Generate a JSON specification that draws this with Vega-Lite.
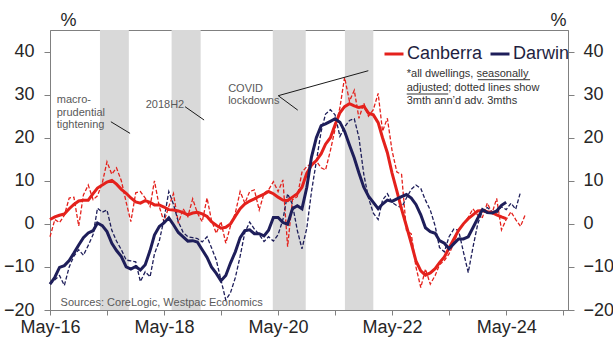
{
  "$schema": "https://vega.github.io/schema/vega-lite/v6.json",
  "width": 518,
  "height": 280,
  "autosize": "none",
  "padding": {"left": 50, "top": 30, "right": 45, "bottom": 34},
  "background": "white",
  "config": {
    "view": {"stroke": "#808080", "strokeWidth": 1},
    "font": "Liberation Sans",
    "axis": {
      "labelFont": "Liberation Sans",
      "labelFontSize": 18,
      "labelColor": "#262626",
      "domainColor": "#808080",
      "tickColor": "#808080",
      "grid": false,
      "titleFont": "Liberation Sans"
    },
    "legend": {
      "orient": "none",
      "legendX": 333,
      "legendY": 13,
      "direction": "horizontal",
      "symbolType": "stroke",
      "symbolSize": 361,
      "symbolStrokeWidth": 3,
      "symbolDash": [],
      "labelFont": "Liberation Sans",
      "labelFontSize": 18,
      "labelColor": "#1f1f3f",
      "labelOffset": 2,
      "columnPadding": 1,
      "padding": 0,
      "title": null
    }
  },
  "datasets": {
    "series": [
      {"d": "2016/05/01", "C": 1.0, "D": -14.0, "Cd": -3.0, "Dd": -14.0},
      {"d": "2016/06/01", "C": 1.6, "D": -12.4, "Cd": 1.0, "Dd": -13.0},
      {"d": "2016/07/01", "C": 2.0, "D": -10.1, "Cd": 0.3, "Dd": -12.0},
      {"d": "2016/08/01", "C": 2.3, "D": -9.7, "Cd": 2.0, "Dd": -14.3},
      {"d": "2016/09/01", "C": 3.5, "D": -8.5, "Cd": 6.0, "Dd": -10.0},
      {"d": "2016/10/01", "C": 4.5, "D": -6.8, "Cd": 6.2, "Dd": -7.5},
      {"d": "2016/11/01", "C": 5.3, "D": -4.9, "Cd": -0.5, "Dd": -6.0},
      {"d": "2016/12/01", "C": 5.5, "D": -3.2, "Cd": 6.7, "Dd": -7.3},
      {"d": "2017/01/01", "C": 5.5, "D": -2.1, "Cd": 9.0, "Dd": -5.0},
      {"d": "2017/02/01", "C": 7.0, "D": -1.6, "Cd": 5.6, "Dd": -2.5},
      {"d": "2017/03/01", "C": 8.3, "D": 0.2, "Cd": 6.5, "Dd": 3.6},
      {"d": "2017/04/01", "C": 9.0, "D": -0.4, "Cd": 9.5, "Dd": 2.7},
      {"d": "2017/05/01", "C": 9.7, "D": -1.8, "Cd": 14.4, "Dd": 3.2},
      {"d": "2017/06/01", "C": 10.1, "D": -4.5, "Cd": 11.5, "Dd": -1.5},
      {"d": "2017/07/01", "C": 9.2, "D": -6.2, "Cd": 13.0, "Dd": -4.0},
      {"d": "2017/08/01", "C": 8.0, "D": -7.6, "Cd": 10.0, "Dd": -6.0},
      {"d": "2017/09/01", "C": 7.1, "D": -10.0, "Cd": 5.0, "Dd": -8.4},
      {"d": "2017/10/01", "C": 6.0, "D": -10.5, "Cd": 0.5, "Dd": -8.6},
      {"d": "2017/11/01", "C": 5.1, "D": -9.9, "Cd": 7.2, "Dd": -8.8},
      {"d": "2017/12/01", "C": 4.8, "D": -10.7, "Cd": 7.5, "Dd": -13.4},
      {"d": "2018/01/01", "C": 5.4, "D": -9.5, "Cd": 6.0, "Dd": -11.1},
      {"d": "2018/02/01", "C": 5.0, "D": -6.2, "Cd": 4.0, "Dd": -12.3},
      {"d": "2018/03/01", "C": 4.4, "D": -2.6, "Cd": 10.0, "Dd": -7.0},
      {"d": "2018/04/01", "C": 4.4, "D": -0.6, "Cd": 4.0, "Dd": -4.0},
      {"d": "2018/05/01", "C": 3.9, "D": 0.2, "Cd": 0.5, "Dd": 1.0},
      {"d": "2018/06/01", "C": 3.3, "D": 1.4, "Cd": 4.0, "Dd": 7.5},
      {"d": "2018/07/01", "C": 3.2, "D": -0.2, "Cd": 7.0, "Dd": 4.5},
      {"d": "2018/08/01", "C": 3.0, "D": -2.0, "Cd": 0.1, "Dd": 0.5},
      {"d": "2018/09/01", "C": 2.6, "D": -3.0, "Cd": 3.5, "Dd": -2.0},
      {"d": "2018/10/01", "C": 2.1, "D": -4.0, "Cd": 1.7, "Dd": -3.0},
      {"d": "2018/11/01", "C": 2.5, "D": -3.9, "Cd": 5.8, "Dd": -3.2},
      {"d": "2018/12/01", "C": 2.7, "D": -4.2, "Cd": 2.5, "Dd": -3.4},
      {"d": "2019/01/01", "C": 2.3, "D": -6.0, "Cd": 0.5, "Dd": -4.2},
      {"d": "2019/02/01", "C": 1.7, "D": -7.8, "Cd": 6.0, "Dd": -3.0},
      {"d": "2019/03/01", "C": 0.5, "D": -10.0, "Cd": 0.9, "Dd": -5.5},
      {"d": "2019/04/01", "C": -0.3, "D": -11.5, "Cd": -2.2, "Dd": -8.4},
      {"d": "2019/05/01", "C": -1.0, "D": -13.2, "Cd": 0.5, "Dd": -13.0},
      {"d": "2019/06/01", "C": -0.8, "D": -12.0, "Cd": -4.5, "Dd": -17.7},
      {"d": "2019/07/01", "C": 0.0, "D": -9.1, "Cd": -0.5, "Dd": -16.0},
      {"d": "2019/08/01", "C": 1.8, "D": -6.5, "Cd": 2.5, "Dd": -12.5},
      {"d": "2019/09/01", "C": 3.5, "D": -3.2, "Cd": 7.5, "Dd": -7.5},
      {"d": "2019/10/01", "C": 4.6, "D": -1.6, "Cd": 4.8, "Dd": -2.0},
      {"d": "2019/11/01", "C": 5.3, "D": -1.4, "Cd": 7.5, "Dd": 0.4},
      {"d": "2019/12/01", "C": 5.8, "D": -2.3, "Cd": 7.9, "Dd": -1.2},
      {"d": "2020/01/01", "C": 6.4, "D": -2.3, "Cd": 3.2, "Dd": -2.5},
      {"d": "2020/02/01", "C": 6.9, "D": -2.8, "Cd": 7.1, "Dd": -4.1},
      {"d": "2020/03/01", "C": 7.5, "D": -1.5, "Cd": 7.9, "Dd": -3.0},
      {"d": "2020/04/01", "C": 7.0, "D": 1.5, "Cd": 9.8, "Dd": -4.0},
      {"d": "2020/05/01", "C": 6.2, "D": 1.5, "Cd": 7.5, "Dd": -2.5},
      {"d": "2020/06/01", "C": 5.5, "D": 0.3, "Cd": 10.2, "Dd": 1.0},
      {"d": "2020/07/01", "C": 5.4, "D": -0.1, "Cd": -5.3, "Dd": 7.0},
      {"d": "2020/08/01", "C": 6.2, "D": 3.5, "Cd": 5.6, "Dd": 4.5},
      {"d": "2020/09/01", "C": 7.0, "D": 4.2, "Cd": 6.3, "Dd": -1.5},
      {"d": "2020/10/01", "C": 8.5, "D": 3.5, "Cd": 12.0, "Dd": -5.8},
      {"d": "2020/11/01", "C": 11.8, "D": 8.5, "Cd": 13.3, "Dd": -1.0},
      {"d": "2020/12/01", "C": 13.6, "D": 15.5, "Cd": 14.0, "Dd": 7.5},
      {"d": "2021/01/01", "C": 14.7, "D": 20.0, "Cd": 14.6, "Dd": 14.5},
      {"d": "2021/02/01", "C": 16.3, "D": 22.8, "Cd": 13.0, "Dd": 21.5},
      {"d": "2021/03/01", "C": 18.5, "D": 23.2, "Cd": 12.5, "Dd": 25.5},
      {"d": "2021/04/01", "C": 20.0, "D": 23.8, "Cd": 17.0, "Dd": 26.5},
      {"d": "2021/05/01", "C": 23.0, "D": 24.4, "Cd": 22.0, "Dd": 25.3},
      {"d": "2021/06/01", "C": 25.8, "D": 23.6, "Cd": 27.0, "Dd": 20.3},
      {"d": "2021/07/01", "C": 27.2, "D": 21.5, "Cd": 34.0, "Dd": 22.5},
      {"d": "2021/08/01", "C": 27.9, "D": 18.3, "Cd": 28.5, "Dd": 24.0},
      {"d": "2021/09/01", "C": 27.4, "D": 15.3, "Cd": 31.0, "Dd": 24.4},
      {"d": "2021/10/01", "C": 27.0, "D": 11.8, "Cd": 24.5, "Dd": 20.0},
      {"d": "2021/11/01", "C": 27.3, "D": 8.5, "Cd": 28.0, "Dd": 11.5},
      {"d": "2021/12/01", "C": 25.7, "D": 6.4, "Cd": 25.0, "Dd": 6.0},
      {"d": "2022/01/01", "C": 25.3, "D": 5.0, "Cd": 26.5, "Dd": 2.5},
      {"d": "2022/02/01", "C": 23.5, "D": 3.5, "Cd": 30.3, "Dd": 1.0},
      {"d": "2022/03/01", "C": 20.0, "D": 4.6, "Cd": 21.5, "Dd": 5.5},
      {"d": "2022/04/01", "C": 16.5, "D": 5.5, "Cd": 24.5, "Dd": 7.0},
      {"d": "2022/05/01", "C": 11.8, "D": 5.2, "Cd": 17.0, "Dd": 5.0},
      {"d": "2022/06/01", "C": 7.6, "D": 5.8, "Cd": 12.0, "Dd": 4.2},
      {"d": "2022/07/01", "C": 3.4, "D": 6.3, "Cd": 11.5, "Dd": 3.8},
      {"d": "2022/08/01", "C": -0.5, "D": 6.8, "Cd": -1.5, "Dd": 6.0},
      {"d": "2022/09/01", "C": -4.5, "D": 6.0, "Cd": -2.3, "Dd": 8.0},
      {"d": "2022/10/01", "C": -8.6, "D": 4.5, "Cd": -10.0, "Dd": 9.0},
      {"d": "2022/11/01", "C": -10.9, "D": 2.1, "Cd": -14.8, "Dd": 8.2},
      {"d": "2022/12/01", "C": -11.9, "D": -0.9, "Cd": -10.5, "Dd": 5.5},
      {"d": "2023/01/01", "C": -11.4, "D": -1.8, "Cd": -14.0, "Dd": 3.2},
      {"d": "2023/02/01", "C": -10.4, "D": -2.2, "Cd": -12.0, "Dd": -0.5},
      {"d": "2023/03/01", "C": -9.0, "D": -3.9, "Cd": -9.5, "Dd": -5.5},
      {"d": "2023/04/01", "C": -7.7, "D": -4.5, "Cd": -8.5, "Dd": -6.5},
      {"d": "2023/05/01", "C": -5.6, "D": -5.8, "Cd": -7.0, "Dd": -3.0},
      {"d": "2023/06/01", "C": -3.5, "D": -4.6, "Cd": -4.5, "Dd": -1.2},
      {"d": "2023/07/01", "C": -1.5, "D": -3.5, "Cd": -1.5, "Dd": -1.5},
      {"d": "2023/08/01", "C": 0.0, "D": -3.5, "Cd": 0.0, "Dd": -6.5},
      {"d": "2023/09/01", "C": 1.2, "D": -3.0, "Cd": 1.5, "Dd": -11.3},
      {"d": "2023/10/01", "C": 2.1, "D": -0.9, "Cd": 3.5, "Dd": -5.5},
      {"d": "2023/11/01", "C": 3.0, "D": 1.3, "Cd": 2.0, "Dd": 0.0},
      {"d": "2023/12/01", "C": 3.1, "D": 3.3, "Cd": 1.5, "Dd": 3.0},
      {"d": "2024/01/01", "C": 2.8, "D": 2.6, "Cd": 4.8, "Dd": 3.8},
      {"d": "2024/02/01", "C": 2.6, "D": 2.5, "Cd": 2.5, "Dd": 2.8},
      {"d": "2024/03/01", "C": 2.1, "D": 3.0, "Cd": 5.9, "Dd": 2.5},
      {"d": "2024/04/01", "C": 1.6, "D": 4.3, "Cd": -1.4, "Dd": 4.0},
      {"d": "2024/05/01", "C": 1.2, "D": 5.0, "Cd": 1.0, "Dd": 3.3},
      {"d": "2024/06/01", "Cd": 2.8, "Dd": 4.8},
      {"d": "2024/07/01", "Cd": 1.0, "Dd": 3.4},
      {"d": "2024/08/01", "Cd": -0.6, "Dd": 7.4},
      {"d": "2024/09/01", "Cd": 2.2}
    ],
    "bands": [
      {"d": "2017/03/17", "d2": "2017/09/18"},
      {"d": "2018/06/19", "d2": "2018/12/22"},
      {"d": "2020/03/28", "d2": "2020/10/25"},
      {"d": "2021/07/03", "d2": "2022/01/01"}
    ],
    "leaders": [
      {"d": "2017/05/26", "d2": "2017/09/26", "v": 23.7, "v2": 21.0},
      {"d": "2018/09/13", "d2": "2019/01/13", "v": 27.2, "v2": 24.1},
      {"d": "2020/05/02", "d2": "2020/09/04", "v": 29.75, "v2": 26.4},
      {"d": "2020/05/02", "d2": "2021/11/30", "v": 29.75, "v2": 35.55}
    ],
    "underlines": [
      {"d": "2023/11/02", "d2": "2024/10/01", "v": 33.46},
      {"d": "2022/08/03", "d2": "2023/04/26", "v": 30.14}
    ],
    "events": [
      {"d": "2016/06/13", "v": 27.98, "t": "macro-\nprudential\ntightening"},
      {"d": "2018/01/04", "v": 26.8, "t": "2018H2"},
      {"d": "2019/06/16", "v": 30.7, "t": "COVID\nlockdowns"}
    ],
    "note": [
      {"d": "2022/08/03", "v": 34.0, "t": "*all dwellings, seasonally\nadjusted; dotted lines show\n3mth ann’d adv. 3mths"}
    ],
    "source": [
      {"d": "2016/07/08", "v": -19.07, "t": "Sources: CoreLogic, Westpac Economics"}
    ]
  },
  "encoding": {
    "x": {
      "field": "d",
      "type": "temporal",
      "scale": {
        "domain": [
          {"year": 2016, "month": "may", "date": 1},
          {"year": 2025, "month": "jun", "date": 1}
        ]
      },
      "axis": {
        "title": null,
        "values": [
          {"year": 2016, "month": "may", "date": 1},
          {"year": 2017, "month": "may", "date": 1},
          {"year": 2018, "month": "may", "date": 1},
          {"year": 2019, "month": "may", "date": 1},
          {"year": 2020, "month": "may", "date": 1},
          {"year": 2021, "month": "may", "date": 1},
          {"year": 2022, "month": "may", "date": 1},
          {"year": 2023, "month": "may", "date": 1},
          {"year": 2024, "month": "may", "date": 1},
          {"year": 2025, "month": "may", "date": 1}
        ],
        "labelExpr": "year(datum.value) % 2 == 0 ? timeFormat(datum.value, '%b-%y') : ''",
        "tickSize": 5,
        "labelPadding": 3,
        "labelFlush": false,
        "labelOverlap": false
      }
    }
  },
  "resolve": {"axis": {"y": "independent"}},
  "layer": [
    {
      "data": {"name": "bands"},
      "mark": {"type": "rect", "color": "#d9d9d9"},
      "encoding": {"x2": {"field": "d2"}}
    },
    {
      "mark": {"type": "rule", "color": "#262626", "strokeWidth": 1},
      "encoding": {
        "y": {"datum": 0, "type": "quantitative", "scale": {"domain": [-20, 45], "nice": false, "zero": false}, "axis": null}
      }
    },
    {
      "data": {"name": "series"},
      "mark": {"type": "line", "strokeWidth": 1.3, "strokeDash": [4, 2]},
      "encoding": {
        "y": {"field": "Cd", "type": "quantitative", "axis": null},
        "color": {"datum": "Canberra", "type": "nominal"}
      }
    },
    {
      "data": {"name": "series"},
      "mark": {"type": "line", "strokeWidth": 1.3, "strokeDash": [4, 2]},
      "encoding": {
        "y": {"field": "Dd", "type": "quantitative", "axis": null},
        "color": {"datum": "Darwin", "type": "nominal"}
      }
    },
    {
      "data": {"name": "series"},
      "mark": {"type": "line", "strokeWidth": 3},
      "encoding": {
        "y": {
          "field": "C",
          "type": "quantitative",
          "axis": {
            "orient": "left",
            "values": [-20, -10, 0, 10, 20, 30, 40],
            "tickSize": 6,
            "labelPadding": 10,
            "title": "%",
            "titleAngle": 0,
            "titleX": 10,
            "titleY": -5,
            "titleAlign": "left",
            "titleBaseline": "alphabetic",
            "titleFontSize": 18,
            "titleFontWeight": "normal",
            "titleColor": "#262626"
          }
        },
        "color": {
          "datum": "Canberra",
          "type": "nominal",
          "scale": {"domain": ["Canberra", "Darwin"], "range": ["#e4211c", "#1e1e5a"]}
        }
      }
    },
    {
      "data": {"name": "series"},
      "mark": {"type": "line", "strokeWidth": 3},
      "encoding": {
        "y": {
          "field": "D",
          "type": "quantitative",
          "axis": {
            "orient": "right",
            "values": [-20, -10, 0, 10, 20, 30, 40],
            "tickSize": 6,
            "labelPadding": 9,
            "title": "%",
            "titleAngle": 0,
            "titleX": -18,
            "titleY": -5,
            "titleAlign": "left",
            "titleBaseline": "alphabetic",
            "titleFontSize": 18,
            "titleFontWeight": "normal",
            "titleColor": "#262626"
          }
        },
        "color": {"datum": "Darwin", "type": "nominal"}
      }
    },
    {
      "data": {"name": "leaders"},
      "mark": {"type": "rule", "color": "#1a1a1a", "strokeWidth": 1},
      "encoding": {
        "x2": {"field": "d2"},
        "y": {"field": "v", "type": "quantitative", "axis": null},
        "y2": {"field": "v2"}
      }
    },
    {
      "data": {"name": "underlines"},
      "mark": {"type": "rule", "color": "#333333", "strokeWidth": 1},
      "encoding": {
        "x2": {"field": "d2"},
        "y": {"field": "v", "type": "quantitative", "axis": null}
      }
    },
    {
      "data": {"name": "events"},
      "mark": {"type": "text", "align": "left", "baseline": "alphabetic", "fontSize": 11, "lineHeight": 12.5, "lineBreak": "\n", "color": "#595959"},
      "encoding": {
        "y": {"field": "v", "type": "quantitative", "axis": null},
        "text": {"field": "t"}
      }
    },
    {
      "data": {"name": "note"},
      "mark": {"type": "text", "align": "left", "baseline": "alphabetic", "fontSize": 11, "lineHeight": 13.2, "lineBreak": "\n", "color": "#333333"},
      "encoding": {
        "y": {"field": "v", "type": "quantitative", "axis": null},
        "text": {"field": "t"}
      }
    },
    {
      "data": {"name": "source"},
      "mark": {"type": "text", "align": "left", "baseline": "alphabetic", "fontSize": 11, "color": "#595959"},
      "encoding": {
        "y": {"field": "v", "type": "quantitative", "axis": null},
        "text": {"field": "t"}
      }
    }
  ]
}
